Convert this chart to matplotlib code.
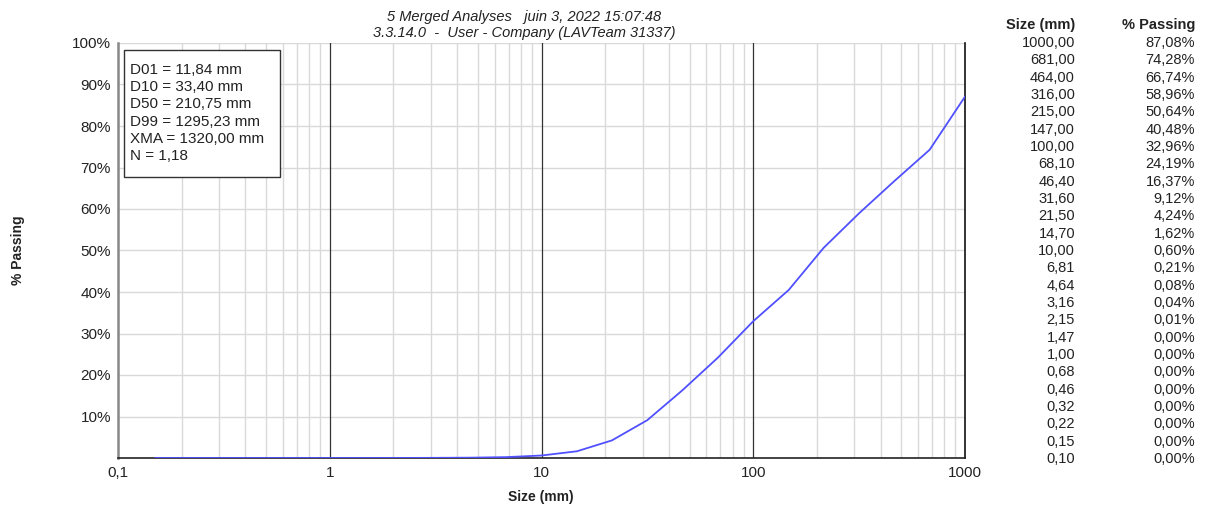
import matplotlib
matplotlib.use("Agg")
import matplotlib.pyplot as plt
from matplotlib.ticker import FixedLocator, NullFormatter, FixedFormatter
import numpy as np

plt.rcParams['font.family'] = ['Liberation Sans', 'DejaVu Sans']

sizes = [1000.00, 681.00, 464.00, 316.00, 215.00, 147.00, 100.00, 68.10, 46.40, 31.60,
         21.50, 14.70, 10.00, 6.81, 4.64, 3.16, 2.15, 1.47, 1.00, 0.68, 0.46, 0.32, 0.22, 0.15, 0.10]
passing = [87.08, 74.28, 66.74, 58.96, 50.64, 40.48, 32.96, 24.19, 16.37, 9.12,
           4.24, 1.62, 0.60, 0.21, 0.08, 0.04, 0.01, 0.00, 0.00, 0.00, 0.00, 0.00, 0.00, 0.00, 0.00]
stats = ["D01 = 11,84 mm", "D10 = 33,40 mm", "D50 = 210,75 mm",
         "D99 = 1295,23 mm", "XMA = 1320,00 mm", "N = 1,18"]
x_ticks = [0.1, 1, 10, 100, 1000]
x_tick_labels = ["0,1", "1", "10", "100", "1000"]
y_ticks = [10, 20, 30, 40, 50, 60, 70, 80, 90, 100]
title1 = "5 Merged Analyses   juin 3, 2022 15:07:48"
title2 = "3.3.14.0  -  User - Company (LAVTeam 31337)"

W, H = 1205, 509
fig = plt.figure(figsize=(W / 100, H / 100), dpi=100)
L, R, T, B = 118, 965, 43, 458
ax = fig.add_axes([L / W, 1 - B / H, (R - L) / W, (B - T) / H])
ax.set_xscale('log')
ax.set_xlim(0.1, 1000)
ax.set_ylim(0, 100)

# grid
minor = [m * 10.0 ** e for e in range(-1, 3) for m in range(2, 10)]
for v in minor:
    ax.axvline(v, color='#d9d9d9', lw=1, zorder=0)
for v in [1, 10, 100]:
    ax.axvline(v, color='#333333', lw=0.9, zorder=1)
for v in y_ticks:
    ax.axhline(v, color='#d9d9d9', lw=1, zorder=0)

# line (first table row 0.10 is not drawn in reference)
xs = np.array(sizes[:-1])
ys = np.array(passing[:-1])
ax.plot(xs, ys, color='#5050ff', lw=1.3, zorder=3)

ax.xaxis.set_major_locator(FixedLocator(x_ticks))
ax.xaxis.set_major_formatter(FixedFormatter(x_tick_labels))
ax.xaxis.set_minor_locator(FixedLocator([]))
ax.xaxis.set_minor_formatter(NullFormatter())
ax.set_yticks(y_ticks)
ax.set_yticklabels([f"{v}%" for v in y_ticks])
ax.tick_params(axis='both', length=0, labelsize=11, colors='#333333', labelcolor='#222222')
ax.tick_params(axis='x', pad=6)
ax.tick_params(axis='y', pad=5)

ax.spines['top'].set_visible(False)
ax.spines['left'].set_color('#888888')
ax.spines['left'].set_linewidth(1.8)
ax.spines['bottom'].set_color('#222222')
ax.spines['bottom'].set_linewidth(1.2)
ax.spines['right'].set_color('#111111')
ax.spines['right'].set_linewidth(1.2)

# titles
fig.text(524 / W, 1 - 17 / H, title1, ha='center', va='center', fontsize=10.5, style='italic', color='#222222')
fig.text(524 / W, 1 - 33 / H, title2, ha='center', va='center', fontsize=10.5, style='italic', color='#222222')

# axis labels
fig.text(541 / W, 1 - 497 / H, "Size (mm)", ha='center', va='center', fontsize=10, fontweight='bold', color='#222222')
fig.text(18 / W, 1 - 250 / H, "% Passing", ha='center', va='center', fontsize=10, fontweight='bold',
         rotation=90, color='#222222')

# stats box
bx0, by0, bx1, by1 = 124, 50, 280, 177
box = plt.Rectangle((bx0 / W, 1 - by1 / H), (bx1 - bx0) / W, (by1 - by0) / H,
                    transform=fig.transFigure, facecolor='white', edgecolor='#333333', lw=1, zorder=5)
fig.patches.append(box)
for i, s in enumerate(stats):
    fig.text(130 / W, 1 - (70 + i * 17.2) / H, s, ha='left', va='center', fontsize=11, color='#222222', zorder=6)

# table
fig.text(1075 / W, 1 - 25 / H, "Size (mm)", ha='right', va='center', fontsize=10.5, fontweight='bold', color='#222222')
fig.text(1195 / W, 1 - 25 / H, "% Passing", ha='right', va='center', fontsize=10.5, fontweight='bold', color='#222222')
step = (459 - 43) / (len(sizes) - 1)
for i, (s, p) in enumerate(zip(sizes, passing)):
    y = 1 - (43 + i * step) / H
    fig.text(1075 / W, y, f"{s:.2f}".replace('.', ','), ha='right', va='center', fontsize=10.5, color='#222222')
    fig.text(1195 / W, y, f"{p:.2f}%".replace('.', ','), ha='right', va='center', fontsize=10.5, color='#222222')

fig.savefig("out.png", dpi=100)
